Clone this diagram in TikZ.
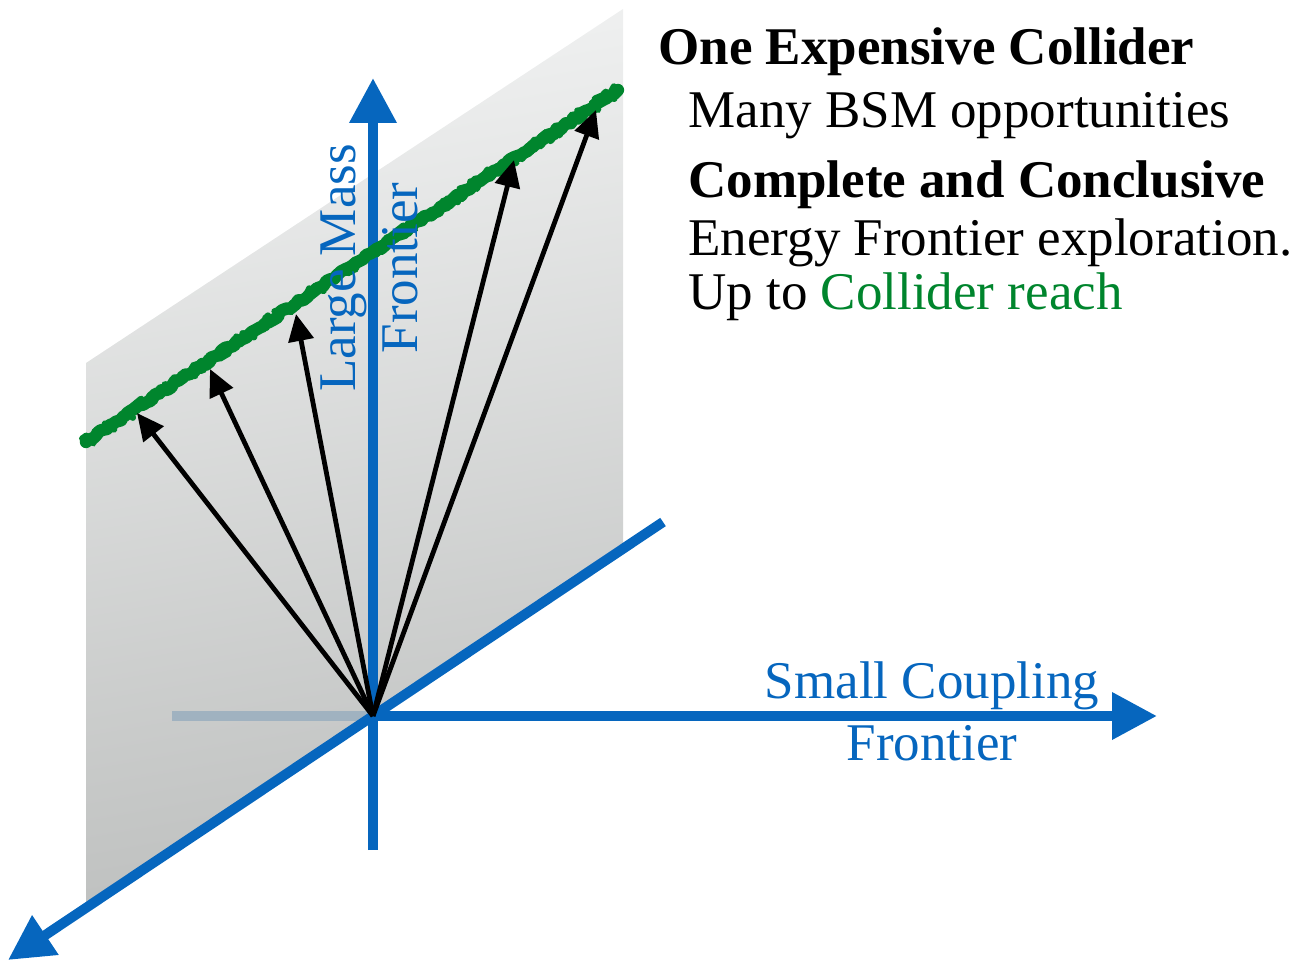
\documentclass[tikz,border=0pt]{standalone}
\usepackage{fontspec}
\setmainfont{Liberation Serif}
\usetikzlibrary{arrows.meta,decorations.pathmorphing}
\definecolor{axisblue}{RGB}{6,102,190}
\definecolor{fadeblue}{RGB}{160,178,192}
\definecolor{reachgreen}{RGB}{0,133,45}
\definecolor{planetop}{RGB}{240,241,241}
\definecolor{planebot}{RGB}{190,192,191}
\begin{document}
\begin{tikzpicture}[x=0.5pt,y=-0.5pt,
  axisline/.style={line width=5pt, draw=axisblue, -{Triangle[length=22.5pt,width=22.5pt]}},
  ray/.style={line width=2.4pt, draw=black, -{Triangle[length=13.5pt,width=12.5pt]}},
  bigtext/.style={inner sep=0pt, font=\fontsize{26.5}{31}\selectfont},
  txt/.style={bigtext, anchor=base west},
  boldtxt/.style={txt, font=\fontsize{26.5}{31}\selectfont\bfseries},
  axlabel/.style={bigtext, anchor=base, text=axisblue},
  greenline/.style={draw=reachgreen, line cap=round, line join=round, decorate}
]
\useasboundingbox (0,0) rectangle (1301,963);
\pgfmathsetseed{7}
% key points
\coordinate (O) at (373,716);
\coordinate (P1) at (86,363);
\coordinate (P2) at (623,9);
\coordinate (P3) at (623,549);
\coordinate (P4) at (86,907);
\coordinate (Vbot) at (373,850);
\coordinate (Vtop) at (373,78);
\coordinate (Hleft) at (172,716);
\coordinate (Hright) at (1157,716);
\coordinate (Dup) at (663,522);
\coordinate (Ddown) at (8,960);
\coordinate (G1) at (86,442);
\coordinate (G2) at (618,90);
\coordinate (A1) at (137,413);
\coordinate (A2) at (210,369);
\coordinate (A3) at (296,314);
\coordinate (A4) at (514,160);
\coordinate (A5) at (596,110);
% plane
\shade[top color=planetop, bottom color=planebot, shading angle=10] (P1) -- (P2) -- (P3) -- (P4) -- cycle;
% axes
\draw[line width=5pt, fadeblue] (Hleft) -- (O);
\draw[axisline] (Vbot) -- (Vtop);
\draw[axisline] (Dup) -- (Ddown);
\draw[axisline] (O) -- (Hright);
% collider reach line
\draw[greenline, line width=6.2pt, decoration={random steps, segment length=2pt, amplitude=0.9pt}] (G1) -- (G2);
\draw[greenline, line width=3.2pt, decoration={random steps, segment length=1.5pt, amplitude=2.8pt}] (G1) -- (G2);
% rays
\foreach \t in {A1,A2,A3,A4,A5} \draw[ray] (O) -- (\t);
% axis labels
\node[axlabel, rotate=90] (lm) at (355,268) {Large Mass};
\node[axlabel, rotate=90] (lf) at (417,268) {Frontier};
\node[axlabel] (sc) at (932,698) {Small Coupling};
\node[axlabel] (sf) at (932,760) {Frontier};
% text block
\node[boldtxt] (t1) at (658,65) {One Expensive Collider};
\node[txt] (t2) at (688,127) {Many BSM opportunities};
\node[boldtxt] (t3) at (688,198) {Complete and Conclusive};
\node[txt] (t4) at (688,255) {Energy Frontier exploration.};
\node[txt] (t5) at (688,309) {Up to \textcolor{reachgreen}{Collider reach}};
\end{tikzpicture}
\end{document}
